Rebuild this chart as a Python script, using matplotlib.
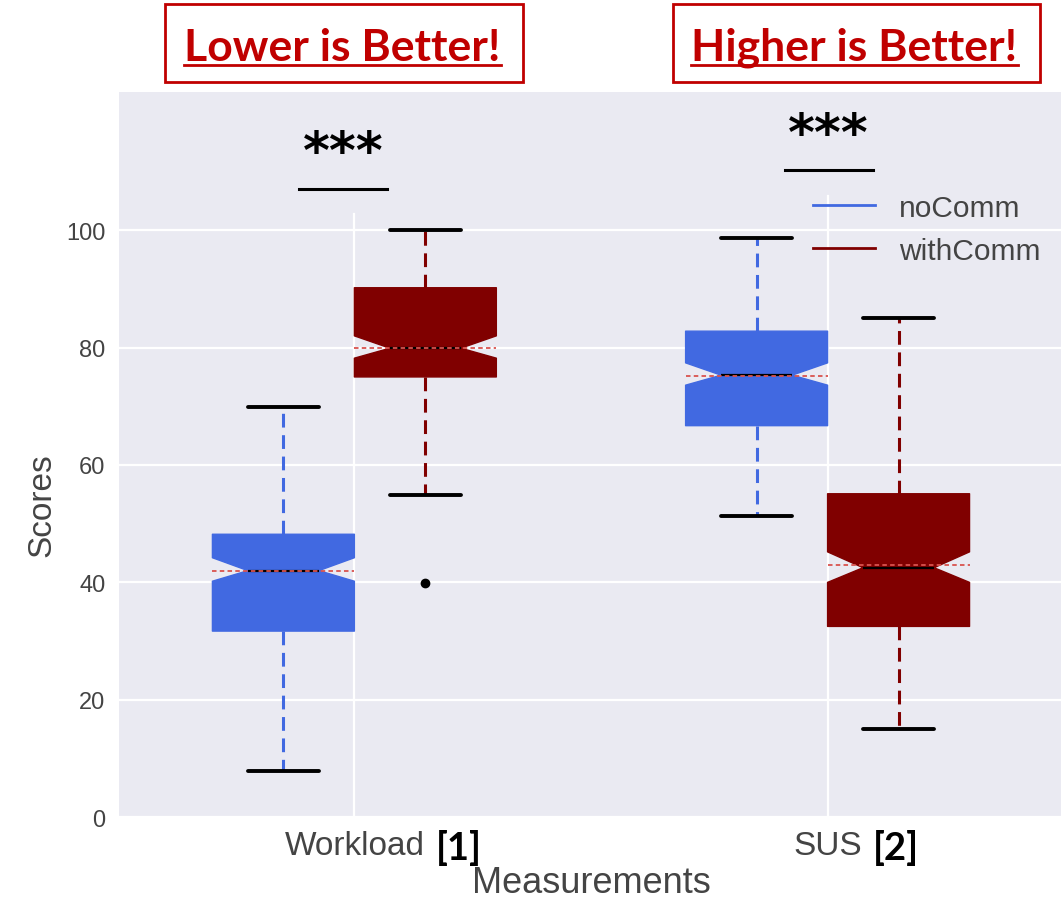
import matplotlib
matplotlib.use('Agg')
import matplotlib.pyplot as plt
from matplotlib.lines import Line2D
from matplotlib.patches import Rectangle

# measurement categories and reference tags
measures = ['Workload', 'SUS']
refs = ['[1]', '[2]']
groups = ['noComm', 'withComm']

# box summary values, one entry per measurement
no_whislo = [7.8, 51.3]
no_q1 = [31.7, 66.7]
no_cilo = [40.2, 73.6]
no_med = [42.0, 75.3]
no_mean = [42.0, 75.2]
no_cihi = [44.2, 77.4]
no_q3 = [48.2, 82.8]
no_whishi = [69.8, 98.6]
no_fliers = [[], []]

with_whislo = [54.9, 15.0]
with_q1 = [75.0, 32.5]
with_cilo = [78.2, 40.0]
with_med = [79.9, 42.5]
with_mean = [80.0, 43.0]
with_cihi = [82.0, 45.2]
with_q3 = [90.2, 55.1]
with_whishi = [100.0, 85.1]
with_fliers = [[39.9], []]

blue = '#4169E1'
maroon = '#800000'
red_note = '#C00000'
txt = '#444444'

plt.rcParams['font.family'] = ['Liberation Sans', 'DejaVu Sans']


def box_stats(whislo, q1, cilo, med, mean, cihi, q3, whishi, fliers):
    out = []
    for i in range(len(med)):
        out.append(dict(whislo=whislo[i], q1=q1[i], cilo=cilo[i], med=med[i],
                        mean=mean[i], cihi=cihi[i], q3=q3[i], whishi=whishi[i],
                        fliers=fliers[i]))
    return out


fig = plt.figure(figsize=(10.61, 9.03), dpi=100)
ax = fig.add_axes([0.111, 0.092, 0.892, 0.806])
ax.set_facecolor('#EAEAF2')
for s in ax.spines.values():
    s.set_color('white')
    s.set_linewidth(1.5)

ax.set_axisbelow(True)
ax.grid(axis='y', color='white', linewidth=1.6)
ax.axvline(0, ymax=0.831, color='white', linewidth=1.6, zorder=0.5)
ax.axvline(1, ymax=0.856, color='white', linewidth=1.6, zorder=0.5)

width = 0.3
for stats, off, c in [(box_stats(no_whislo, no_q1, no_cilo, no_med, no_mean,
                                 no_cihi, no_q3, no_whishi, no_fliers), -0.15, blue),
                      (box_stats(with_whislo, with_q1, with_cilo, with_med, with_mean,
                                 with_cihi, with_q3, with_whishi, with_fliers), 0.15, maroon)]:
    ax.bxp(stats, positions=[i + off for i in range(len(measures))], widths=width,
           shownotches=True, showmeans=True, meanline=True, patch_artist=True,
           manage_ticks=False,
           boxprops=dict(facecolor=c, edgecolor=c, linewidth=1, joinstyle='round'),
           whiskerprops=dict(color=c, linestyle=(0, (4.5, 2.5)), linewidth=2.2),
           capprops=dict(color='black', linewidth=2.8, solid_capstyle='round'),
           medianprops=dict(color='black', linewidth=1.6),
           meanprops=dict(color='#d9534f', linestyle=(0, (2.5, 1.8)), linewidth=1.3),
           flierprops=dict(marker='o', markerfacecolor='black', markeredgecolor='black',
                           markersize=6))

ax.set_xlim(-0.5, 1.5)
ax.set_ylim(-0.3, 123.7)
ax.set_yticks([0, 20, 40, 60, 80, 100])
ax.set_xticks(range(len(measures)))
ax.set_xticklabels(measures)
ax.tick_params(axis='both', length=0, labelcolor=txt)
ax.tick_params(axis='y', labelsize=17, pad=9)
ax.tick_params(axis='x', labelsize=24, pad=8)
ax.set_ylabel('Scores', fontsize=24, color=txt)
ax.yaxis.set_label_coords(-0.064, 0.433)
ax.set_xlabel('Measurements', fontsize=26, color=txt, labelpad=2.5)

# legend
handles = [Line2D([], [], color=blue, linewidth=2), Line2D([], [], color=maroon, linewidth=2)]
ax.legend(handles, groups, loc='center left', bbox_to_anchor=(0.766, 0.745),
          bbox_transform=fig.transFigure, frameon=False, fontsize=21.5, borderpad=0,
          borderaxespad=0, handlelength=2.1, handletextpad=0.8, labelspacing=0.5,
          labelcolor=txt)

# significance markers
ax.plot([-0.116, 0.070], [107.0, 107.0], color='black', linewidth=2.2, clip_on=False)
ax.plot([0.911, 1.097], [110.2, 110.2], color='black', linewidth=2.2, clip_on=False)
ax.text(-0.023, 113.2, '***', ha='center', va='center', fontsize=37, fontweight='bold',
        family='DejaVu Sans')
ax.text(1.001, 116.3, '***', ha='center', va='center', fontsize=37, fontweight='bold',
        family='DejaVu Sans')

# reference tags next to the tick labels
for lbl, ref in zip(ax.get_xticklabels(), refs):
    ax.annotate(ref, xy=(1, 0), xycoords=lbl, xytext=(8, -2.5), textcoords='offset points',
                ha='left', va='bottom', fontsize=27.5, fontweight='bold', family='Lato',
                color='black')

# "better" notes above the axes
notes = []
for x0, x1, xc, note in [(165, 523, 342.5, 'Lower is Better!'),
                         (673, 1040, 854.5, 'Higher is Better!')]:
    fig.add_artist(Rectangle((x0 / 1061, 1 - 83 / 903), (x1 - x0) / 1061, 78 / 903,
                             transform=fig.transFigure, facecolor='white',
                             edgecolor=red_note, linewidth=2))
    notes.append(fig.text(xc / 1061, 1 - 61 / 903, note, ha='center', va='baseline',
                          color=red_note, fontsize=32, fontweight='bold', family='Lato'))

# underline each note across its own width
fig.canvas.draw()
renderer = fig.canvas.get_renderer()
W, H = fig.bbox.width, fig.bbox.height
for t in notes:
    bb = t.get_window_extent(renderer)
    fig.add_artist(Line2D([bb.x0 / W, bb.x1 / W], [1 - 66 / 903, 1 - 66 / 903],
                          transform=fig.transFigure, color=red_note, linewidth=2))

fig.savefig('out.png', dpi=100)
